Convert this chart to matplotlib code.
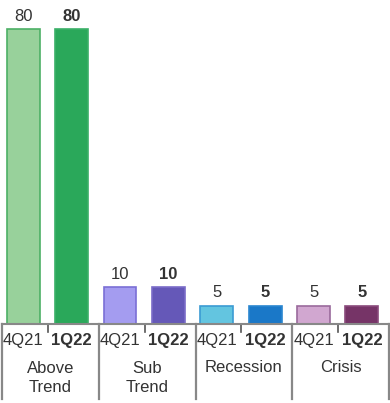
import matplotlib
matplotlib.use("Agg")
import matplotlib.pyplot as plt
from matplotlib.lines import Line2D

groups = ["Above\nTrend", "Sub\nTrend", "Recession", "Crisis"]
periods = ["4Q21", "1Q22"]
values_4q21 = [80, 10, 5, 5]
values_1q22 = [80, 10, 5, 5]
colors_4q21 = ["#98D19B", "#A49CF0", "#63C5E0", "#D1A7D0"]
edges_4q21 = ["#4DB066", "#7A6FD6", "#3B9BD3", "#9A6A9C"]
colors_1q22 = ["#2AA85A", "#6558B8", "#1A78C8", "#763467"]
edges_1q22 = ["#3BB068", "#7A6CC8", "#2A86D0", "#8A4A7C"]

plt.rcParams['font.family'] = ['Liberation Sans', 'DejaVu Sans']
fig = plt.figure(figsize=(3.9, 4.03), dpi=100)
W, H = 390, 403
ax_left, ax_right, ax_bottom_px = 2, 389, 324
ax = fig.add_axes([ax_left / W, (H - ax_bottom_px) / H, (ax_right - ax_left) / W, ax_bottom_px / H])

tc = "#333333"
fs = 12
bw = 0.68
xs = []
for i in range(len(groups)):
    x1 = 2 * i - 0.06
    x2 = 2 * i + 1 - 0.06
    ax.bar(x1, values_4q21[i], width=bw, color=colors_4q21[i], edgecolor=edges_4q21[i], linewidth=1.2)
    ax.bar(x2, values_1q22[i], width=bw, color=colors_1q22[i], edgecolor=edges_1q22[i], linewidth=1.2)
    ax.text(x1, values_4q21[i] + 1.5, str(values_4q21[i]), ha="center", va="bottom", fontsize=fs, color=tc)
    ax.text(x2, values_1q22[i] + 1.5, str(values_1q22[i]), ha="center", va="bottom", fontsize=fs, color=tc, fontweight="bold")
    xs.append((x1, x2))

ax.set_xlim(-0.5, 7.5)
ax.set_ylim(0, 88)
for s in ["top", "right", "left"]:
    ax.spines[s].set_visible(False)
ax.spines["bottom"].set_color("#888888")
ax.spines["bottom"].set_linewidth(1.5)
ax.set_yticks([])
ax.set_xticks([])

trans = ax.get_xaxis_transform()
def ypx(p):
    return (ax_bottom_px - p) / ax_bottom_px

for i in range(len(groups)):
    x1, x2 = xs[i]
    ax.text(x1, ypx(340), periods[0], transform=trans, ha="center", va="center", fontsize=fs, color=tc, clip_on=False)
    ax.text(x2, ypx(340), periods[1], transform=trans, ha="center", va="center", fontsize=fs, color=tc, fontweight="bold", clip_on=False)
    ax.text(2 * i + 0.5, ypx(378) if "\n" in groups[i] else ypx(368), groups[i], transform=trans, ha="center", va="center",
            fontsize=fs, color=tc, linespacing=1.4, clip_on=False)
    mid = 2 * i + 0.45
    ax.add_line(Line2D([mid, mid], [ypx(324), ypx(332)], transform=trans, color="#555555", lw=1.2, clip_on=False))

for b in range(len(groups) + 1):
    xb = 2 * b - 0.5
    if b == len(groups):
        xb = 7.5 - 0.01
    ax.add_line(Line2D([xb, xb], [ypx(324), ypx(399)], transform=trans, color="#888888", lw=1.6, clip_on=False))

fig.savefig("out.png", dpi=100)
